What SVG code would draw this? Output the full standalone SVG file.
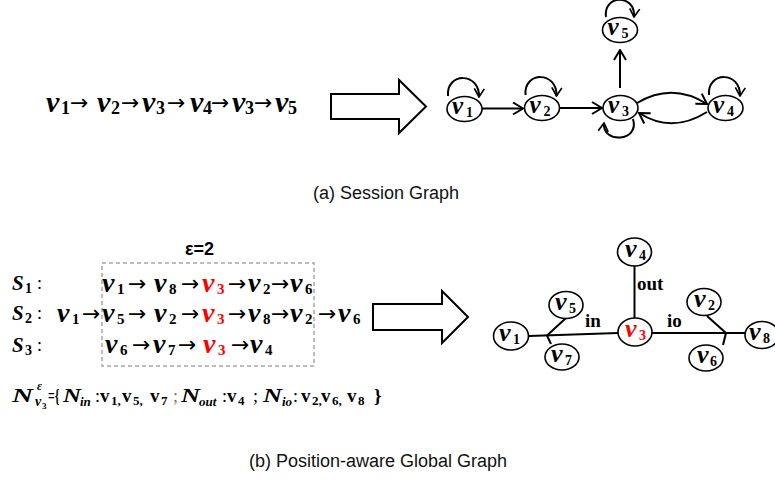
<svg xmlns="http://www.w3.org/2000/svg" width="775" height="480" viewBox="0 0 775 480">
<defs>
<style>
.bg{fill:#fff}
.mv{font-family:"Liberation Serif","DejaVu Serif",serif;font-weight:bold;font-style:italic}
.sb{font-family:"Liberation Serif","DejaVu Serif",serif;font-weight:bold;font-style:normal}
.ar{font-family:"DejaVu Sans","Liberation Sans",sans-serif;font-size:22px}
.cap{font-family:"Liberation Sans",Arial,sans-serif;font-size:18px;fill:#111}
.nd{fill:#fff;stroke:#000;stroke-width:1.6}
.ed{fill:none;stroke:#000;stroke-width:2}
.red{fill:#ff0000}
.big{fill:#fff;stroke:#000;stroke-width:2;stroke-linejoin:miter}
.box{fill:none;stroke:#a6a6a6;stroke-width:1.5;stroke-dasharray:4 3}
.lbl{font-family:"Liberation Serif","DejaVu Serif",serif;font-weight:bold;font-size:19px}
.up{font-family:"Liberation Serif","DejaVu Serif",serif;font-weight:bold}
.rg{font-family:"Liberation Serif","DejaVu Serif",serif;font-size:18px}
</style>
<marker id="ah" viewBox="0 0 12 14" refX="11" refY="7" markerWidth="12" markerHeight="14" markerUnits="userSpaceOnUse" orient="auto">
<path d="M1,1 L11,7 L1,13" fill="none" stroke="#000" stroke-width="2"/>
</marker>
<marker id="ahs" viewBox="0 0 12 14" refX="11" refY="7" markerWidth="10" markerHeight="12" markerUnits="userSpaceOnUse" orient="auto">
<path d="M1,1 L11,7 L1,13" fill="none" stroke="#000" stroke-width="2"/>
</marker>
</defs>
<rect class="bg" x="0" y="0" width="775" height="480"/>

<!-- (a) sequence -->
<g id="seq-a">
<text class="mv" font-size="30" y="111.5"><tspan x="46">v</tspan><tspan x="97">v</tspan><tspan x="142">v</tspan><tspan x="190">v</tspan><tspan x="232">v</tspan><tspan x="275">v</tspan></text>
<text class="sb" font-size="18" y="114"><tspan x="61">1</tspan><tspan x="111">2</tspan><tspan x="156">3</tspan><tspan x="203">4</tspan><tspan x="245">3</tspan><tspan x="288">5</tspan></text>
<text class="ar" y="110"><tspan x="70">→</tspan><tspan x="121">→</tspan><tspan x="167">→</tspan><tspan x="211">→</tspan><tspan x="254">→</tspan></text>
</g>

<g id="bigarrow-a"><polygon class="big" points="331,94 399,94 399,80 426,106.5 399,133 399,119 331,119"/></g>

<!-- (a) session graph connectors -->
<g id="connectors-a">
<path class="ed" d="M482,108.5 L523,108.5" marker-end="url(#ah)"/>
<path class="ed" d="M560,108 L602,108" marker-end="url(#ah)"/>
<path class="ed" d="M620,88 L620,50" marker-end="url(#ah)"/>
<path class="ed" d="M637,103 Q672,82 707,104" marker-end="url(#ah)"/>
<path class="ed" d="M707,112 Q672,134 639,113" marker-end="url(#ah)"/>
<path class="ed" d="M448,96 C446,72 480,72 479,97" marker-end="url(#ahs)"/>
<path class="ed" d="M525.5,95 C523.5,71 557.5,71 556.5,96" marker-end="url(#ahs)"/>
<path class="ed" d="M709,95 C707,71 741,71 740,96" marker-end="url(#ahs)"/>
<path class="ed" d="M606,17 C603,-6 636,-6 634,17" marker-end="url(#ahs)"/>
<path class="ed" d="M633,119 C640,142 602,144 604,123" marker-end="url(#ahs)"/>
</g>

<g id="a-v1"><ellipse class="nd" cx="464.5" cy="109" rx="17.5" ry="12.5"/><text class="mv" font-size="25" x="452" y="113.5">v</text><text class="sb" font-size="14" x="466" y="116.5">1</text></g>
<g id="a-v2"><ellipse class="nd" cx="542" cy="108" rx="17.5" ry="12.5"/><text class="mv" font-size="25" x="529.5" y="112.5">v</text><text class="sb" font-size="14" x="543.5" y="115.5">2</text></g>
<g id="a-v3"><ellipse class="nd" cx="620.5" cy="108" rx="17.5" ry="12.5"/><text class="mv" font-size="25" x="608" y="112.5">v</text><text class="sb" font-size="14" x="622" y="115.5">3</text></g>
<g id="a-v4"><ellipse class="nd" cx="725.5" cy="108" rx="17.5" ry="12.5"/><text class="mv" font-size="25" x="713" y="112.5">v</text><text class="sb" font-size="14" x="727" y="115.5">4</text></g>
<g id="a-v5"><ellipse class="nd" cx="620" cy="30" rx="17.5" ry="12.5"/><text class="mv" font-size="25" x="607.5" y="34.5">v</text><text class="sb" font-size="14" x="621.5" y="37.5">5</text></g>

<text class="cap" x="313" y="199">(a) Session Graph</text>

<!-- (b) sequences -->
<g id="eps"><text font-family="Liberation Sans,Arial,sans-serif" font-weight="bold" font-size="18" x="185" y="255">ε=2</text></g>
<g id="window"><rect class="box" x="102" y="263" width="212" height="103"/></g>

<g id="s-labels">
<text class="mv" font-size="21" x="12" y="290">S</text><text class="sb" font-size="14" x="25" y="293">1</text><text class="rg" x="37" y="289">:</text>
<text class="mv" font-size="21" x="12" y="320">S</text><text class="sb" font-size="14" x="25" y="323">2</text><text class="rg" x="37" y="319">:</text>
<text class="mv" font-size="21" x="12" y="352">S</text><text class="sb" font-size="14" x="25" y="355">3</text><text class="rg" x="37" y="351">:</text>
</g>

<g id="row1">
<text class="mv" font-size="28" y="292"><tspan x="102">v</tspan><tspan x="154">v</tspan><tspan class="red" x="202">v</tspan><tspan x="248">v</tspan><tspan x="290">v</tspan></text>
<text class="sb" font-size="15" y="294"><tspan x="117">1</tspan><tspan x="169">8</tspan><tspan class="red" x="217">3</tspan><tspan x="263">2</tspan><tspan x="305">6</tspan></text>
<text class="ar" y="291"><tspan x="128">→</tspan><tspan x="181">→</tspan><tspan x="228">→</tspan><tspan x="271">→</tspan></text>
</g>
<g id="row2">
<text class="mv" font-size="28" y="322"><tspan x="57">v</tspan><tspan x="102">v</tspan><tspan x="154">v</tspan><tspan class="red" x="202">v</tspan><tspan x="248">v</tspan><tspan x="290">v</tspan><tspan x="338">v</tspan></text>
<text class="sb" font-size="15" y="324"><tspan x="72">1</tspan><tspan x="117">5</tspan><tspan x="169">2</tspan><tspan class="red" x="217">3</tspan><tspan x="263">8</tspan><tspan x="305">2</tspan><tspan x="353">6</tspan></text>
<text class="ar" y="321"><tspan x="82">→</tspan><tspan x="128">→</tspan><tspan x="181">→</tspan><tspan x="228">→</tspan><tspan x="271">→</tspan><tspan x="318">→</tspan></text>
</g>
<g id="row3">
<text class="mv" font-size="28" y="353"><tspan x="105">v</tspan><tspan x="153">v</tspan><tspan class="red" x="203">v</tspan><tspan x="250">v</tspan></text>
<text class="sb" font-size="15" y="355"><tspan x="120">6</tspan><tspan x="168">7</tspan><tspan class="red" x="218">3</tspan><tspan x="265">4</tspan></text>
<text class="ar" y="352"><tspan x="132">→</tspan><tspan x="178">→</tspan><tspan x="231">→</tspan></text>
</g>

<g id="bigarrow-b"><polygon class="big" points="373,304 442,304 442,291 468,317 442,343 442,330 373,330"/></g>

<!-- formula -->
<g id="formula">
<text class="mv" font-size="19" x="12" y="402" textLength="21" lengthAdjust="spacingAndGlyphs">N</text>
<text class="mv" font-size="12" x="37" y="390">ε</text>
<text class="mv" font-size="14" x="35" y="406">v</text><text class="sb" font-size="9" x="42" y="409">3</text>
<text class="up" font-size="18" x="48" y="402" textLength="11.5" lengthAdjust="spacingAndGlyphs">={</text>
<text class="mv" font-size="19" x="63" y="402" textLength="18" lengthAdjust="spacingAndGlyphs">N</text><text class="mv" font-size="13" x="80" y="406">in</text>
<text class="rg" x="95" y="402">:</text>
<text class="up" font-size="19" x="100" y="402">v</text><text class="up" font-size="13" x="111" y="405">1,</text>
<text class="up" font-size="19" x="122" y="402">v</text><text class="up" font-size="13" x="133" y="405">5,</text>
<text class="up" font-size="19" x="150" y="402">v</text><text class="up" font-size="13" x="161" y="405">7</text>
<text class="rg" fill="#a5675e" x="173" y="402">;</text>
<text class="mv" font-size="19" x="181" y="402" textLength="19" lengthAdjust="spacingAndGlyphs">N</text><text class="mv" font-size="13" x="199" y="406">out</text>
<text class="rg" x="222" y="402">:</text>
<text class="up" font-size="19" x="227" y="402">v</text><text class="up" font-size="13" x="238" y="405">4</text>
<text class="rg" x="253" y="402">;</text>
<text class="mv" font-size="19" x="263" y="402" textLength="19" lengthAdjust="spacingAndGlyphs">N</text><text class="mv" font-size="13" x="282" y="406">io</text>
<text class="rg" x="293" y="402">:</text>
<text class="up" font-size="19" x="301" y="402">v</text><text class="up" font-size="13" x="312" y="405">2,</text>
<text class="up" font-size="19" x="321" y="402">v</text><text class="up" font-size="13" x="332" y="405">6,</text>
<text class="up" font-size="19" x="347" y="402">v</text><text class="up" font-size="13" x="358" y="405">8</text>
<text class="up" font-size="19" x="374" y="402">}</text>
</g>

<!-- (b) global graph connectors -->
<g id="connectors-b">
<path class="ed" d="M529,336 L618,333"/>
<path class="ed" d="M547,335.5 L566,318"/>
<path class="ed" d="M547,335.5 L551,344"/>
<path class="ed" d="M634.5,266 L634.5,318"/>
<path class="ed" d="M652,333 L746,333"/>
<path class="ed" d="M726,333 L707,316"/>
<path class="ed" d="M726,333 L723,345"/>
</g>
<text class="lbl" x="585" y="327">in</text>
<text class="lbl" x="667" y="327">io</text>
<text class="lbl" x="637" y="290">out</text>

<g id="b-v4"><ellipse class="nd" cx="634.5" cy="252" rx="17" ry="14"/><text class="mv" font-size="26" x="625" y="257">v</text><text class="sb" font-size="14" x="639" y="260">4</text></g>
<g id="b-v3"><ellipse class="nd" cx="635" cy="332" rx="17" ry="14"/><text class="mv red" font-size="26" x="625" y="337">v</text><text class="sb red" font-size="14" x="639" y="340">3</text></g>
<g id="b-v5"><ellipse class="nd" cx="566" cy="305" rx="17" ry="13.5"/><text class="mv" font-size="26" x="555" y="310">v</text><text class="sb" font-size="14" x="569" y="313">5</text></g>
<g id="b-v1"><ellipse class="nd" cx="511" cy="336" rx="17.5" ry="14"/><text class="mv" font-size="26" x="499" y="341">v</text><text class="sb" font-size="14" x="513" y="344">1</text></g>
<g id="b-v7"><ellipse class="nd" cx="562" cy="357" rx="17" ry="13"/><text class="mv" font-size="26" x="551" y="362">v</text><text class="sb" font-size="14" x="565" y="365">7</text></g>
<g id="b-v2"><ellipse class="nd" cx="704" cy="302" rx="17" ry="13.5"/><text class="mv" font-size="26" x="694" y="307">v</text><text class="sb" font-size="14" x="708" y="310">2</text></g>
<g id="b-v6"><ellipse class="nd" cx="706" cy="358" rx="17" ry="13"/><text class="mv" font-size="26" x="697" y="363">v</text><text class="sb" font-size="14" x="710" y="366">6</text></g>
<g id="b-v8"><ellipse class="nd" cx="762" cy="335" rx="17" ry="13.5"/><text class="mv" font-size="26" x="749" y="340">v</text><text class="sb" font-size="14" x="763" y="343">8</text></g>

<text class="cap" x="249" y="467">(b) Position-aware Global Graph</text>
</svg>
